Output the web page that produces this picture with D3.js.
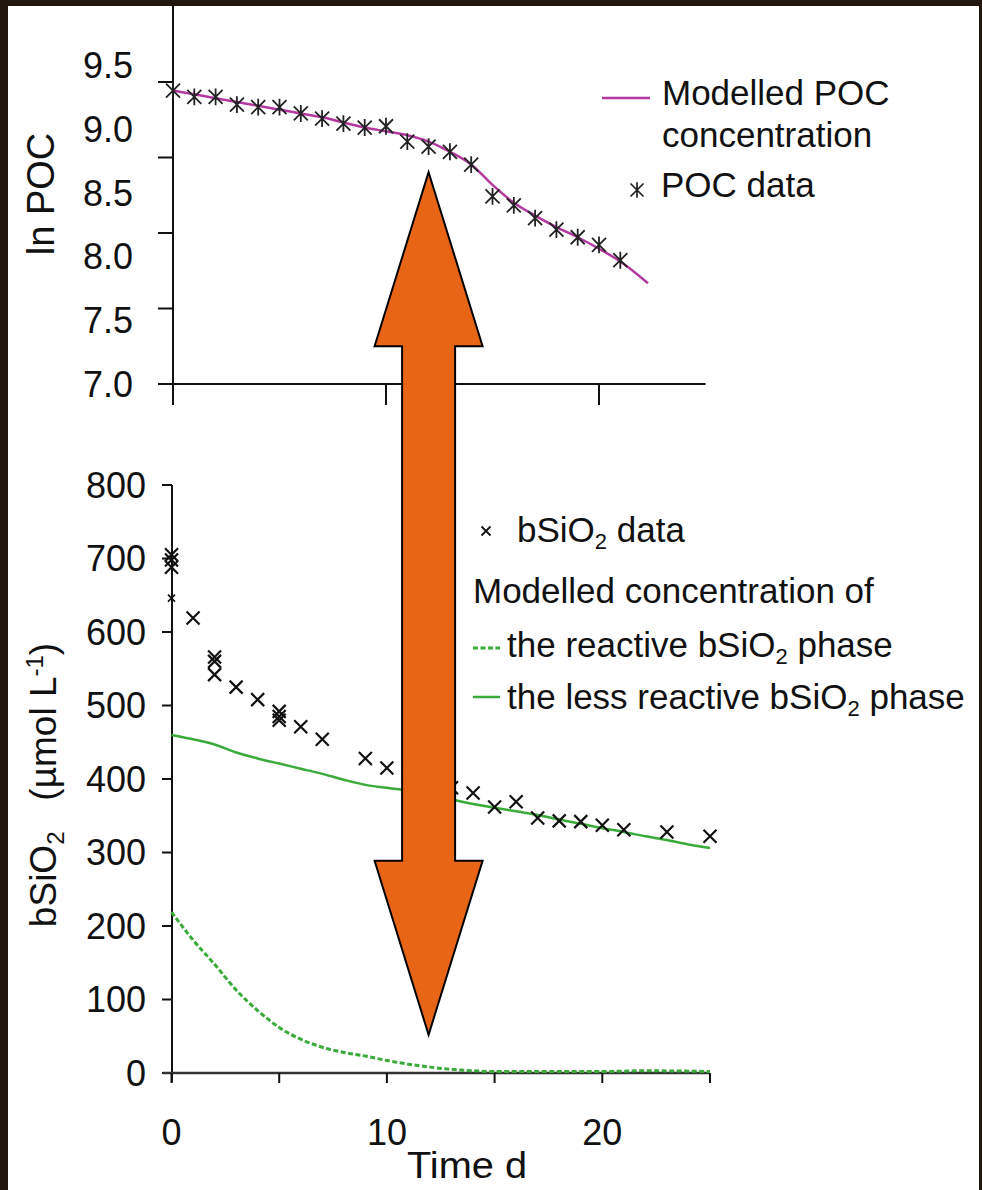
<!DOCTYPE html>
<html><head><meta charset="utf-8">
<script src="https://cdn.jsdelivr.net/npm/d3@7"></script>
<style>html,body{margin:0;padding:0;background:#22170f;}svg{display:block;}</style>
</head><body>
<script>
// ---------- DATA ----------
const pocDays = [0,1,2,3,4,5,6,7,8,9,10,11,12,13,14,15,16,17,18,19,20,21];
const pocValues = [9.30,9.25,9.25,9.19,9.17,9.17,9.12,9.08,9.04,9.01,9.02,8.90,8.86,8.82,8.72,8.47,8.40,8.30,8.21,8.15,8.09,7.97];
const pocModelDays = [0,1,2,3,4,5,6,7,8,9,10,11,12,13,14,15,16,17,18,19,20,21,22.3];
const pocModelValues = [9.30,9.27,9.24,9.21,9.18,9.15,9.12,9.09,9.05,9.01,8.98,8.95,8.90,8.82,8.72,8.56,8.42,8.32,8.23,8.15,8.06,7.96,7.79];
const pocTickLabels = [7.0,7.5,8.0,8.5,9.0,9.5];
const pocTickMarks = [7.0,7.5,8.0,8.5,9.0];
const timeTicksTop = [0,10,20];

const bsiDays = [0,0,0,1,2,2,2,3,4,5,5,5,6,7,9,10,11,13,14,15,16,17,18,19,20,21,23,25];
const bsiValues = [705,698,688,619,566,560,542,525,508,492,485,480,471,454,428,415,408,388,381,362,369,347,343,342,337,331,328,322];
const bsiSmallDays = [0];
const bsiSmallValues = [646];
const lessReactiveDays = [0,1,2,3,4,5,6,7,8,9,10,11,12,13,14,15,16,17,18,19,20,21,22,23,24,25];
const lessReactiveValues = [460,454,447,436,428,421,414,407,399,392,388,384,378,372,366,361,356,351,345,339,333,328,322,317,311,306];
const reactiveDays = [0,1,2,3,4,5,6,7,8,9,10,11,12,13,14,15,17,20,22,25];
const reactiveValues = [219,181,148,113,85,62,46,35,28,23,17,12,8,5,3,2,2,2,3,2];
const bsiTicks = [0,100,200,300,400,500,600,700,800];
const timeTicksBottom = [0,5,10,15,20,25];
const timeTickLabels = [0,10,20];

const arrowDay = 12, arrowTopValue = 8.66, arrowBottomValue = 52;

// ---------- SETUP ----------
const W = 982, H = 1190;
const FONT = "'Liberation Sans', Arial, Helvetica, sans-serif";
const MAGENTA = "#b3389f", GREEN = "#3aab3a", ORANGE = "#e86516";

const svg = d3.select("body").append("svg").attr("width", W).attr("height", H)
  .style("font-family", FONT);
svg.append("rect").attr("width", W).attr("height", H).attr("fill", "#22170f");
svg.append("rect").attr("x", 8).attr("y", 6).attr("width", 971).attr("height", H - 6).attr("fill", "#ffffff");

// ---------- TOP PANEL ----------
const xTop = d3.scaleLinear().domain([0, 25]).range([173, 705.5]);
const yTop = d3.scaleLinear().domain([7, 9.5]).range([384, 65]);      // label scale
const yTopMarks = d3.scaleLinear().domain([7, 9.5]).range([384, 6.5]); // tick-mark placement

const gTop = svg.append("g");
gTop.append("line").attr("x1", 173).attr("x2", 173).attr("y1", 6).attr("y2", 405)
  .attr("stroke", "#111").attr("stroke-width", 2);
gTop.selectAll(".ytm").data(pocTickMarks).join("line")
  .attr("x1", 158).attr("x2", 173)
  .attr("y1", d => yTopMarks(d)).attr("y2", d => yTopMarks(d))
  .attr("stroke", "#111").attr("stroke-width", 2);
gTop.selectAll(".ytl").data(pocTickLabels).join("text")
  .attr("x", 133).attr("y", d => yTop(d)).attr("dy", "0.36em")
  .attr("text-anchor", "end").attr("font-size", 36).attr("fill", "#111")
  .text(d => d.toFixed(1));
gTop.append("line").attr("x1", 158).attr("x2", xTop(25)).attr("y1", 384).attr("y2", 384)
  .attr("stroke", "#111").attr("stroke-width", 2);
gTop.selectAll(".xtm").data(timeTicksTop).join("line")
  .attr("x1", d => xTop(d)).attr("x2", d => xTop(d)).attr("y1", 384).attr("y2", 405)
  .attr("stroke", "#111").attr("stroke-width", 2);
gTop.append("text").attr("transform", "translate(54,194) rotate(-90)")
  .attr("text-anchor", "middle").attr("font-size", 38).attr("fill", "#111").text("ln POC");

const pocModel = pocModelDays.map((d, i) => [d, pocModelValues[i]]);
gTop.append("path").datum(pocModel)
  .attr("d", d3.line().x(d => xTop(d[0])).y(d => yTop(d[1])).curve(d3.curveMonotoneX))
  .attr("fill", "none").attr("stroke", MAGENTA).attr("stroke-width", 2.5);

function starPath(s) {
  const h = s / 2, v = s * 0.6;
  return `M${-h},${-h}L${h},${h}M${-h},${h}L${h},${-h}M0,${-v}L0,${v}`;
}
function xPath(s) {
  const h = s / 2;
  return `M${-h},${-h}L${h},${h}M${-h},${h}L${h},${-h}`;
}
const pocPts = pocDays.map((d, i) => [d, pocValues[i]]);
gTop.selectAll(".poc").data(pocPts).join("path")
  .attr("transform", d => `translate(${xTop(d[0])},${yTop(d[1])})`)
  .attr("d", starPath(14)).attr("fill", "none").attr("stroke", "#222").attr("stroke-width", 1.8);

gTop.append("line").attr("x1", 602).attr("x2", 650).attr("y1", 98).attr("y2", 98)
  .attr("stroke", MAGENTA).attr("stroke-width", 2.5);
gTop.append("text").attr("x", 662).attr("y", 105).attr("font-size", 35).attr("fill", "#111").text("Modelled POC");
gTop.append("text").attr("x", 662).attr("y", 147).attr("font-size", 35).attr("fill", "#111").text("concentration");
gTop.append("path").attr("transform", "translate(637,190)").attr("d", starPath(13))
  .attr("fill", "none").attr("stroke", "#222").attr("stroke-width", 1.7);
gTop.append("text").attr("x", 661).attr("y", 197).attr("font-size", 35).attr("fill", "#111").text("POC data");

// ---------- BOTTOM PANEL ----------
const xBot = d3.scaleLinear().domain([0, 25]).range([171.5, 710]);
const yBot = d3.scaleLinear().domain([0, 800]).range([1073, 485]);
const gBot = svg.append("g");

gBot.append("line").attr("x1", 172).attr("x2", 172).attr("y1", yBot(800)).attr("y2", 1082)
  .attr("stroke", "#111").attr("stroke-width", 2);
gBot.selectAll(".ytm").data(bsiTicks).join("line")
  .attr("x1", 162).attr("x2", 172).attr("y1", d => yBot(d)).attr("y2", d => yBot(d))
  .attr("stroke", "#111").attr("stroke-width", 2);
gBot.selectAll(".ytl").data(bsiTicks).join("text")
  .attr("x", 146).attr("y", d => yBot(d)).attr("dy", "0.36em")
  .attr("text-anchor", "end").attr("font-size", 36).attr("fill", "#111").text(d => d);
gBot.append("line").attr("x1", 163).attr("x2", xBot(25)).attr("y1", 1073).attr("y2", 1073)
  .attr("stroke", "#333").attr("stroke-width", 2.5);
gBot.selectAll(".xtm").data(timeTicksBottom).join("line")
  .attr("x1", d => xBot(d)).attr("x2", d => xBot(d)).attr("y1", 1073).attr("y2", 1083)
  .attr("stroke", "#111").attr("stroke-width", 2);
gBot.selectAll(".xtl").data(timeTickLabels).join("text")
  .attr("x", d => xBot(d)).attr("y", 1145).attr("text-anchor", "middle")
  .attr("font-size", 36).attr("fill", "#111").text(d => d);
gBot.append("text").attr("x", 467).attr("y", 1178).attr("text-anchor", "middle")
  .attr("font-size", 36).attr("textLength", 120).attr("lengthAdjust", "spacingAndGlyphs")
  .attr("fill", "#111").text("Time d");

const yt = gBot.append("text").attr("transform", "translate(56,785) rotate(-90)")
  .attr("text-anchor", "middle").attr("font-size", 37).attr("fill", "#111");
yt.append("tspan").text("bSiO");
yt.append("tspan").attr("font-size", 24).attr("dy", 8).text("2");
yt.append("tspan").attr("dy", -8).text("\u00a0\u00a0\u00a0(\u00b5mol L");
yt.append("tspan").attr("font-size", 24).attr("dy", -13).text("-1");
yt.append("tspan").attr("dy", 13).text(")");

const less = lessReactiveDays.map((d, i) => [d, lessReactiveValues[i]]);
gBot.append("path").datum(less)
  .attr("d", d3.line().x(d => xBot(d[0])).y(d => yBot(d[1])).curve(d3.curveMonotoneX))
  .attr("fill", "none").attr("stroke", GREEN).attr("stroke-width", 2.5);
const react = reactiveDays.map((d, i) => [d, reactiveValues[i]]);
gBot.append("path").datum(react)
  .attr("d", d3.line().x(d => xBot(d[0])).y(d => yBot(d[1])).curve(d3.curveMonotoneX))
  .attr("fill", "none").attr("stroke", GREEN).attr("stroke-width", 3).attr("stroke-dasharray", "5,2.5");

const bsiPts = bsiDays.map((d, i) => [d, bsiValues[i]]);
gBot.selectAll(".bsi").data(bsiPts).join("path")
  .attr("transform", d => `translate(${xBot(d[0])},${yBot(d[1])})`)
  .attr("d", xPath(13)).attr("fill", "none").attr("stroke", "#111").attr("stroke-width", 2.2);
const bsiSmall = bsiSmallDays.map((d, i) => [d, bsiSmallValues[i]]);
gBot.selectAll(".bsis").data(bsiSmall).join("path")
  .attr("transform", d => `translate(${xBot(d[0])},${yBot(d[1])})`)
  .attr("d", xPath(7)).attr("fill", "none").attr("stroke", "#111").attr("stroke-width", 1.6);

function subText(g, x, y, parts) {
  const t = g.append("text").attr("x", x).attr("y", y).attr("font-size", 35).attr("fill", "#111");
  parts.forEach(p => {
    if (p.sub) t.append("tspan").attr("font-size", 22).attr("dy", 7).text(p.sub);
    else t.append("tspan").attr("dy", p.after ? -7 : 0).text(p.t);
  });
  return t;
}
gBot.append("path").attr("transform", "translate(486,531)").attr("d", xPath(9))
  .attr("fill", "none").attr("stroke", "#111").attr("stroke-width", 1.8);
subText(gBot, 517, 542, [{t: "bSiO"}, {sub: "2"}, {t: " data", after: true}]);
gBot.append("text").attr("x", 473).attr("y", 603).attr("font-size", 35).attr("fill", "#111").text("Modelled concentration of");
gBot.append("line").attr("x1", 473).attr("x2", 500).attr("y1", 648).attr("y2", 648)
  .attr("stroke", GREEN).attr("stroke-width", 3).attr("stroke-dasharray", "5,2.5");
subText(gBot, 507, 657, [{t: "the reactive bSiO"}, {sub: "2"}, {t: " phase", after: true}]);
gBot.append("line").attr("x1", 473).attr("x2", 500).attr("y1", 697).attr("y2", 697)
  .attr("stroke", GREEN).attr("stroke-width", 2.5);
subText(gBot, 507, 709, [{t: "the less reactive bSiO"}, {sub: "2"}, {t: " phase", after: true}]);

// ---------- ARROW (annotation) ----------
const ax = xTop(arrowDay), yT = yTop(arrowTopValue), yB = yBot(arrowBottomValue);
const headLen = 174, headHalf = 54, shaftHalf = 26.5;
const arrowPts = [
  [ax, yT], [ax + headHalf, yT + headLen], [ax + shaftHalf, yT + headLen],
  [ax + shaftHalf, yB - headLen], [ax + headHalf, yB - headLen], [ax, yB],
  [ax - headHalf, yB - headLen], [ax - shaftHalf, yB - headLen],
  [ax - shaftHalf, yT + headLen], [ax - headHalf, yT + headLen]
];
svg.append("path").attr("d", "M" + arrowPts.map(p => p.join(",")).join("L") + "Z")
  .attr("fill", ORANGE).attr("stroke", "#000").attr("stroke-width", 2).attr("stroke-linejoin", "miter");
</script>
</body></html>
